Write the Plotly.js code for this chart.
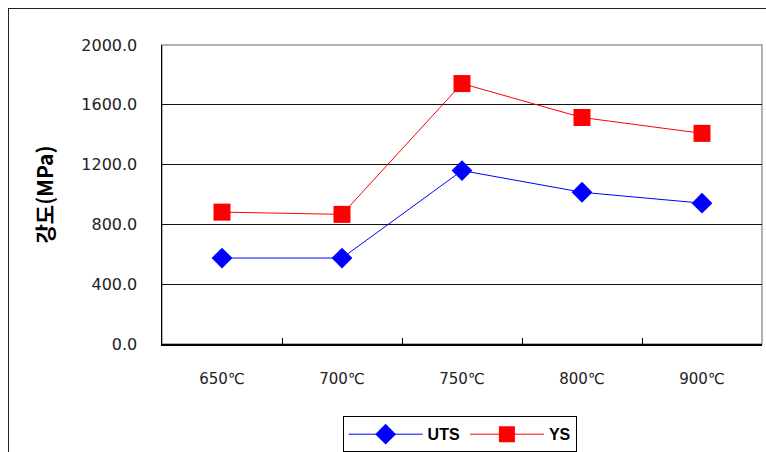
<!DOCTYPE html>
<html>
<head>
<meta charset="utf-8">
<script src="https://cdn.plot.ly/plotly-3.0.1.min.js"></script>
<style>
  html, body { margin: 0; padding: 0; background: #fff; }
  #frame { position: absolute; left: 8px; top: 8px; width: 900px; height: 600px; border: 1px solid #222; box-sizing: border-box; }
  #chart { position: absolute; left: 0; top: 0; width: 766px; height: 452px; }
</style>
</head>
<body>
<div id="frame"></div>
<div id="chart"></div>
<script>
const categories = ["650℃", "700℃", "750℃", "800℃", "900℃"];
const utsValues = [575, 575, 1160, 1015, 942];
const ysValues = [882, 867, 1742, 1515, 1409];
const yTickVals = [0, 400, 800, 1200, 1600, 2000];
const yTickText = ["0.0", "400.0", "800.0", "1200.0", "1600.0", "2000.0"];

const traces = [
  {
    x: categories, y: utsValues, name: "UTS", type: "scatter", mode: "lines+markers",
    line: { color: "#0000ff", width: 1 },
    marker: { symbol: "diamond", size: 16, color: "#0000ff" }
  },
  {
    x: categories, y: ysValues, name: "YS", type: "scatter", mode: "lines+markers",
    line: { color: "#ff0000", width: 1 },
    marker: { symbol: "square", size: 17, color: "#ff0000" }
  }
];

const layout = {
  width: 766, height: 452,
  margin: { l: 162, r: 4, t: 45, b: 108 },
  paper_bgcolor: "rgba(0,0,0,0)",
  plot_bgcolor: "#fff",
  showlegend: true,
  legend: {
    orientation: "h", x: 0.6, xanchor: "center", xref: "container",
    y: 0.079, yanchor: "top", yref: "container",
    bordercolor: "#000", borderwidth: 1, bgcolor: "#fff",
    font: { family: "Liberation Sans, Arial", size: 16, color: "#000", weight: "bold" },
    itemwidth: 74
  },
  xaxis: {
    type: "category", range: [-0.5, 4.5],
    showline: true, linecolor: "#000", linewidth: 1.5,
    showgrid: false, zeroline: false,
    tickson: "boundaries", ticks: "inside", ticklen: 6, tickcolor: "#000", tickwidth: 1,
    ticklabelstandoff: 20,
    tickfont: { family: "DejaVu Sans", size: 15, color: "#222" },
    fixedrange: true
  },
  yaxis: {
    range: [0, 2000],
    tickvals: yTickVals, ticktext: yTickText,
    showline: true, linecolor: "#000", linewidth: 1.5,
    showgrid: true, gridcolor: "#111", gridwidth: 1,
    zeroline: false, ticks: "", ticklabelstandoff: 20,
    tickfont: { family: "DejaVu Sans", size: 16, color: "#222" },
    title: { text: "강도(MPa)", standoff: 22, font: { family: "Noto Sans CJK KR", size: 21, color: "#000", weight: "bold" } },
    fixedrange: true
  },
  shapes: [
    { type: "rect", xref: "paper", yref: "paper", x0: 0, x1: 1, y0: 0, y1: 1,
      line: { color: "#999", width: 1.5 }, layer: "below" }
  ]
};

Plotly.newPlot("chart", traces, layout, { displayModeBar: false, staticPlot: true });
</script>
</body>
</html>
